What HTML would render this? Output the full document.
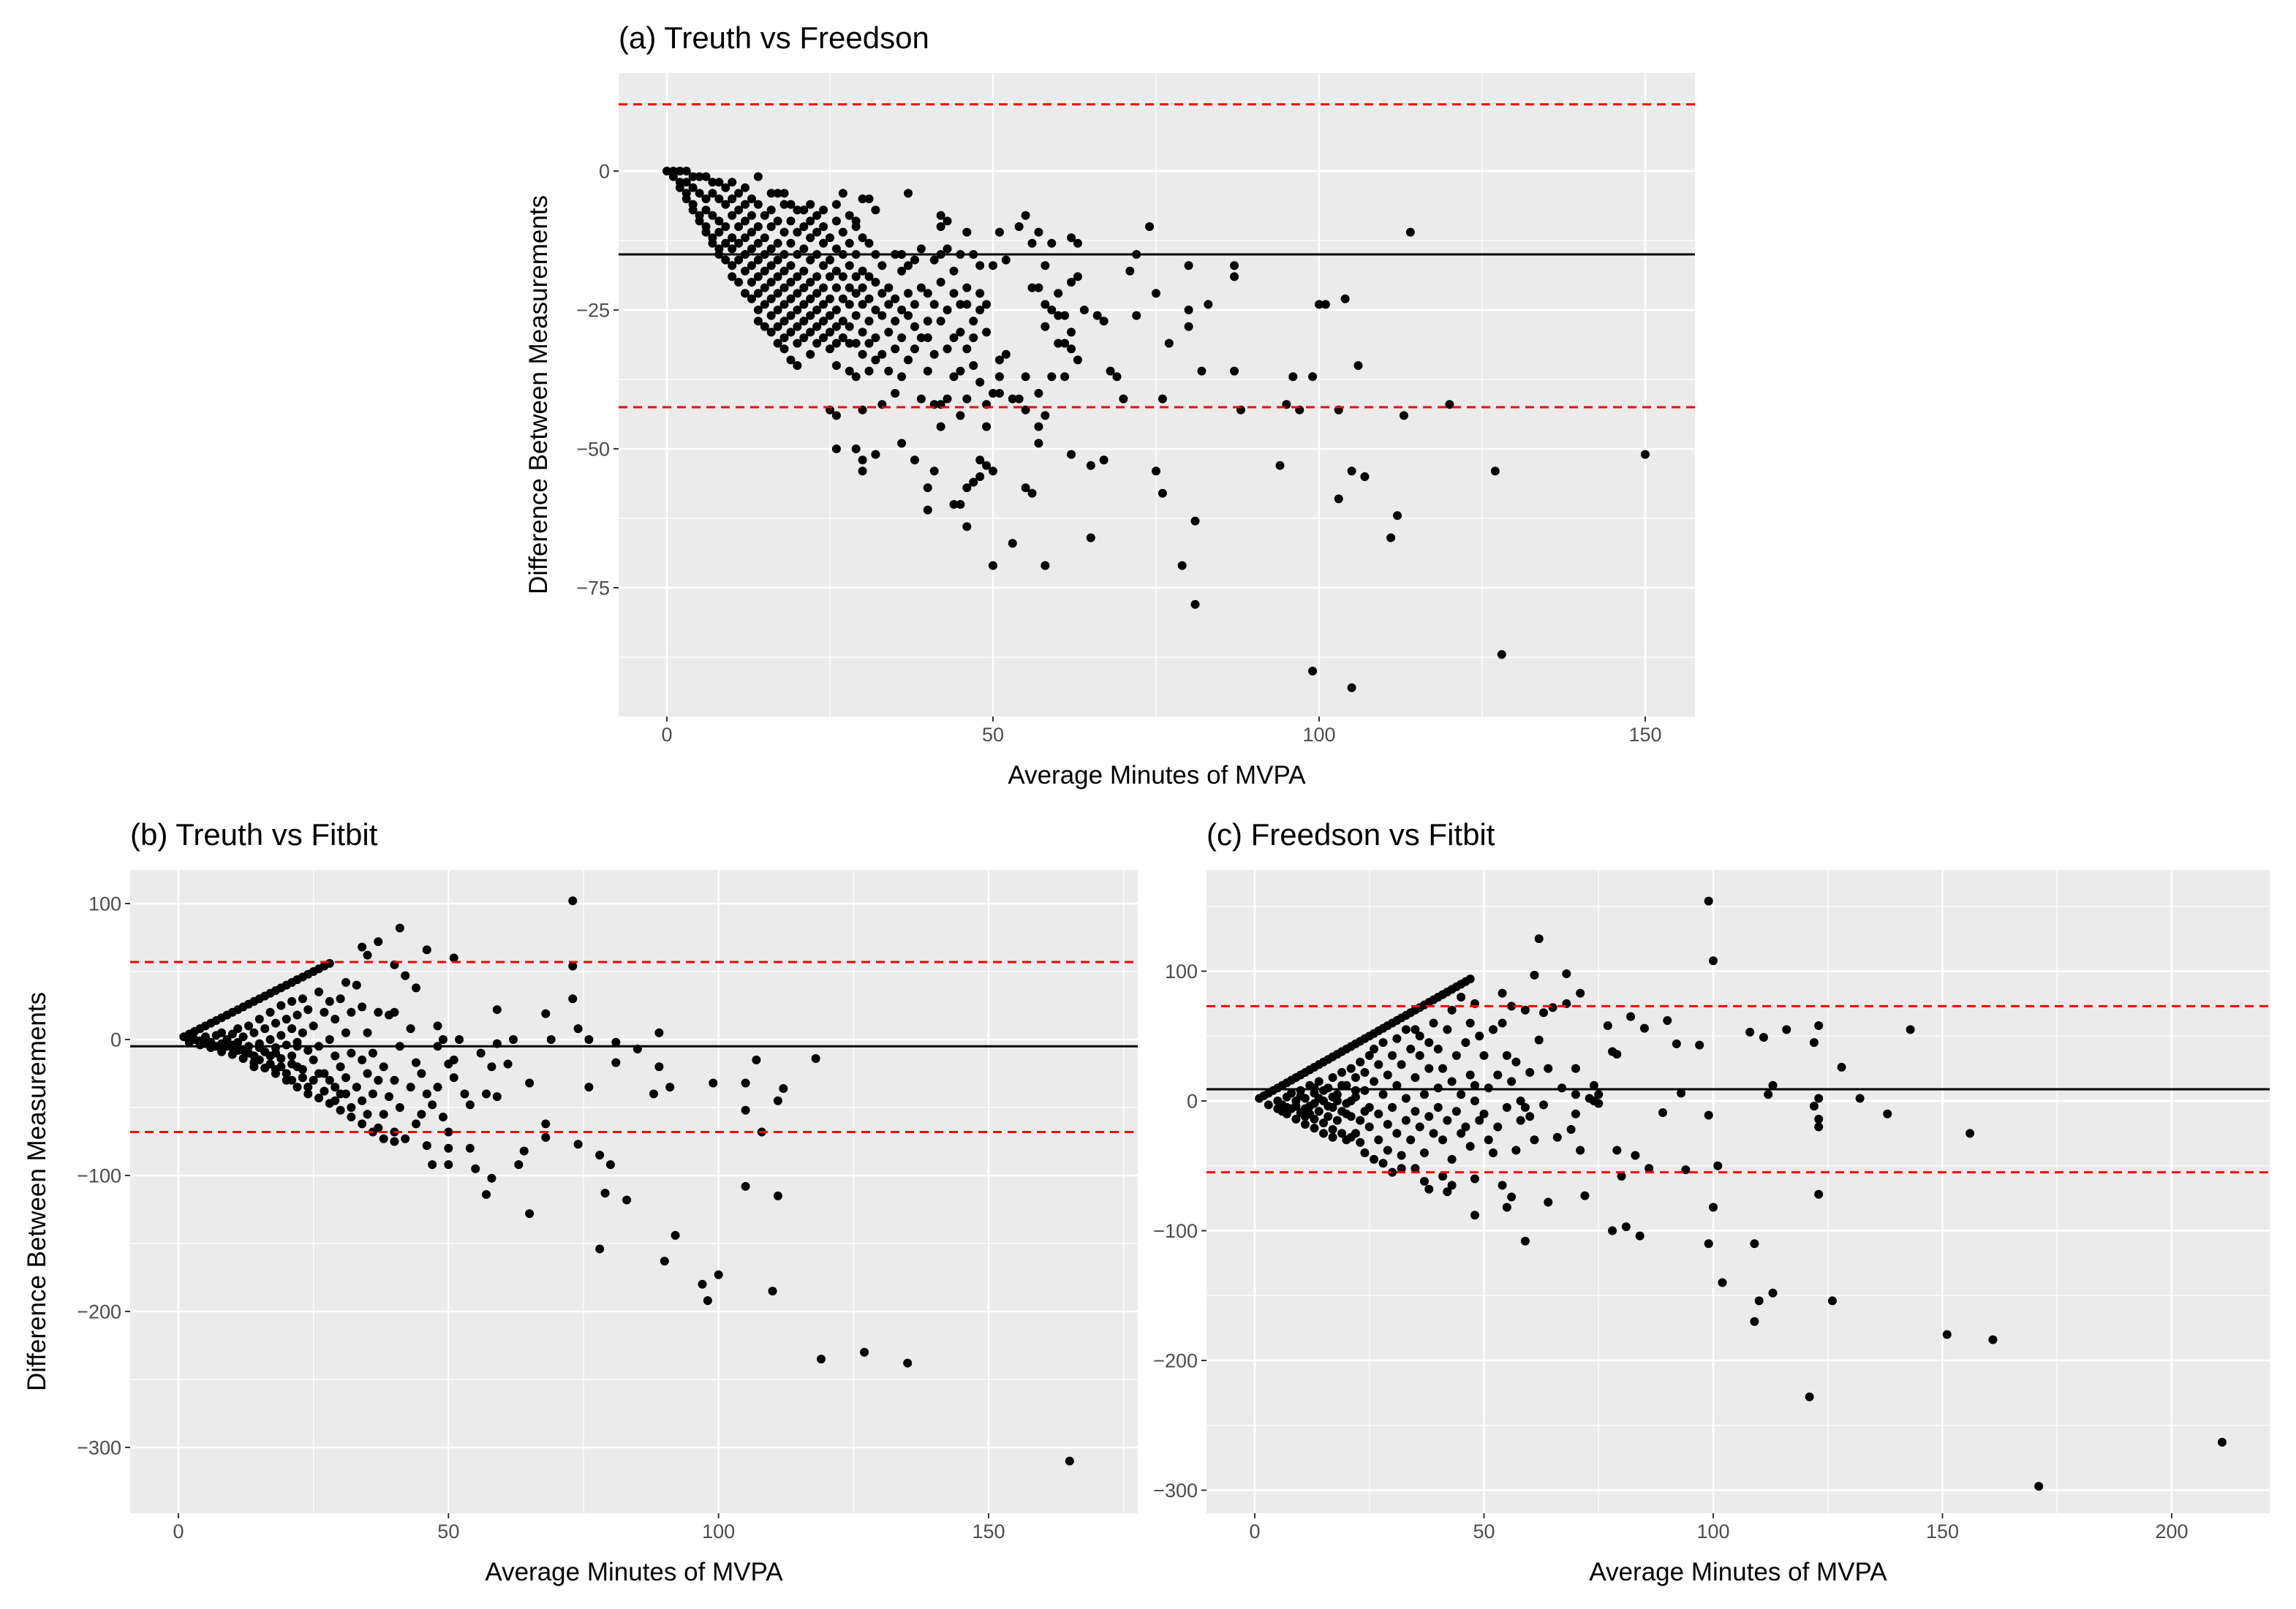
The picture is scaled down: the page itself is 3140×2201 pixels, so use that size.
<!DOCTYPE html>
<html><head><meta charset="utf-8"><style>
html,body{margin:0;padding:0;background:#fff}
svg{display:block}
text{font-family:"Liberation Sans",sans-serif}
</style></head><body>
<svg id="fig" xmlns="http://www.w3.org/2000/svg" width="3140" height="2201" viewBox="0 0 1570 1100.5">
<rect width="1570" height="1100.5" fill="#fff"/>
</svg>
<script>
// ---- Panel (a) Treuth vs Freedson data ----
const aX = [0,1,2,3,4,5,6,7,8,9,10,12,13,14,16,17,18,19,21,22,23,24,26,27,28,29,30,31,32,37,
1,2,2,3,3,4,4,5,5,6,6,7,7,8,8,9,10,10,11,12,13,14,14,15,16,17,18,19,20,
3,4,5,6,6,7,7,8,8,8,9,9,9,10,10,10,10,11,11,11,11,11,12,12,12,12,12,13,13,13,13,13,14,14,14,14,14,14,15,15,15,15,15,15,16,16,16,16,16,16,16,17,17,17,17,17,17,17,18,18,18,18,18,18,18,18,19,19,19,19,19,19,19,20,20,20,20,20,20,20,20,21,21,21,21,21,21,21,22,22,22,22,22,22,22,22,23,23,23,23,23,23,23,24,24,24,24,24,24,24,25,25,25,25,25,25,25,26,26,26,26,26,26,26,26,27,27,27,27,27,27,28,28,28,28,28,28,28,29,29,29,29,29,29,29,30,30,30,30,30,30,31,31,31,31,31,31,32,32,32,32,32,33,33,33,33,34,34,34,34,35,35,35,35,35,36,36,36,36,36,37,37,37,37,38,38,38,38,39,39,39,39,40,40,40,40,41,41,41,41,42,42,42,42,42,42,43,43,43,43,43,44,44,44,44,45,45,45,45,45,46,46,46,46,46,47,47,47,47,48,48,48,48,49,49,49,49,50,50,
25,26,26,29,30,30,30,32,33,36,38,40,40,41,42,44,45,46,46,47,48,48,49,50,51,51,51,52,53,53,54,50,55,55,55,56,57,57,57,58,58,58,59,59,60,60,61,61,62,62,62,63,64,65,65,66,67,67,68,69,70,71,72,72,74,75,75,76,76,77,79,80,80,80,81,81,82,83,87,87,87,88,94,95,96,97,99,99,100,101,103,103,104,105,105,106,107,112,111,113,114,120,127,128,150,
51,52,54,55,56,57,58,59,62,63,63,56,57,58,60,61,62];
const aY = [0,0,0,0,-1,-1,-1,-2,-2,-3,-2,-3,-5,-1,-4,-4,-4,-6,-7,-6,-8,-7,-6,-4,-8,-9,-5,-5,-7,-4,
-1,-2,-3,-4,-5,-6,-7,-8,-9,-10,-11,-12,-13,-14,-15,-16,-17,-19,-20,-22,-23,-25,-27,-28,-29,-31,-32,-34,-35,
-2,-3,-4,-5,-7,-4,-8,-5,-9,-11,-6,-10,-13,-5,-8,-12,-14,-4,-7,-10,-13,-16,-6,-9,-12,-15,-18,-8,-11,-14,-17,-20,-6,-10,-13,-16,-19,-22,-8,-12,-15,-18,-21,-24,-7,-10,-14,-17,-20,-23,-26,-9,-13,-16,-19,-22,-25,-28,-6,-11,-15,-18,-21,-24,-27,-30,-9,-13,-17,-20,-23,-26,-29,-7,-11,-15,-19,-22,-25,-28,-31,-10,-14,-18,-21,-24,-27,-30,-9,-12,-16,-20,-23,-26,-29,-33,-11,-15,-19,-22,-25,-28,-31,-10,-13,-17,-21,-24,-27,-30,-12,-16,-19,-23,-26,-29,-32,-9,-14,-18,-21,-25,-28,-31,-35,-11,-15,-19,-23,-27,-30,-13,-17,-21,-24,-28,-31,-36,-10,-15,-19,-22,-26,-31,-37,-12,-18,-21,-24,-29,-33,-13,-19,-23,-27,-31,-36,-15,-20,-25,-30,-34,-17,-22,-26,-33,-21,-24,-29,-36,-15,-23,-27,-32,-40,-15,-18,-25,-30,-37,-17,-22,-26,-34,-16,-24,-28,-32,-14,-21,-30,-41,-22,-27,-30,-36,-16,-24,-33,-42,-8,-10,-15,-20,-27,-42,-9,-14,-25,-32,-41,-18,-22,-30,-37,-15,-24,-29,-36,-44,-11,-21,-24,-32,-41,-15,-27,-30,-35,-17,-22,-25,-38,-24,-29,-42,-46,-17,-40,
-43,-44,-50,-50,-43,-52,-54,-51,-42,-49,-52,-57,-61,-54,-46,-60,-60,-57,-64,-56,-52,-55,-53,-54,-34,-37,-40,-33,-41,-67,-41,-71,-37,-43,-57,-58,-40,-46,-49,-28,-44,-71,-25,-37,-22,-26,-26,-37,-20,-32,-51,-34,-25,-53,-66,-26,-52,-27,-36,-37,-41,-18,-26,-15,-10,-22,-54,-58,-41,-31,-71,-25,-28,-17,-78,-63,-36,-24,-17,-19,-36,-43,-53,-42,-37,-43,-37,-90,-24,-24,-59,-43,-23,-93,-54,-35,-55,-62,-66,-44,-11,-42,-54,-87,-51,
-11,-16,-10,-8,-13,-11,-17,-13,-12,-13,-19,-21,-21,-24,-31,-31,-29];
const aXTicks = [0,50,100,150];
const aYTicks = [0,-25,-50,-75];
const aLines = [-15, 12, -42.5]; // mean, upper LoA, lower LoA

// ---- Panel (b) Treuth vs Fitbit data ----
const bX = [1,2,3,4,5,6,7,8,9,10,11,12,13,14,15,16,17,18,19,20,21,22,23,24,25,26,27,28,
2,4,6,8,10,12,14,16,18,20,22,24,26,28,30,32,34,36,38,40,
3,4,5,6,7,8,8,9,9,10,10,11,11,12,12,13,13,14,14,15,15,15,16,16,17,17,17,18,18,18,19,19,19,20,20,20,21,21,21,21,22,22,22,23,23,23,24,24,24,25,25,26,26,26,27,27,28,28,28,29,29,29,30,30,30,31,31,31,32,32,32,33,33,34,34,34,34,35,35,35,35,36,36,37,37,37,37,38,38,39,39,40,40,40,40,41,41,41,42,42,43,43,44,44,44,45,45,46,46,46,47,47,48,48,48,49,49,50,50,50,50,51,51,51,52,53,54,54,55,56,57,57,58,58,59,59,59,61,62,63,64,65,65,68,68,68,69,73,73,73,74,74,76,76,78,78,79,80,81,81,83,85,88,89,89,90,91,92,97,98,99,100,105,105,105,107,108,110,111,111,112,118,119,127,135,165,
5,7,9,11,13,15,17,19,21,23,25,27,29,31,10,14,18,22];
const bY = [2,4,6,8,10,12,14,16,18,20,22,24,26,28,30,32,34,36,38,40,42,44,46,48,50,52,54,56,
-2,-4,-6,-9,-11,-14,-17,-21,-25,-30,-35,-40,-43,-47,-52,-57,-62,-68,-73,-75,
0,-1,2,-2,3,-3,5,-5,0,4,-6,8,-2,-8,2,10,-5,5,-12,15,-3,-15,8,-9,20,0,-18,12,-6,-22,25,3,-14,15,-4,-25,28,8,-12,-30,18,-2,-20,30,5,-28,22,-8,-35,10,-15,35,-5,-25,20,-38,28,0,-30,15,-12,-45,30,-20,-40,42,5,-28,20,-10,-50,40,-35,68,24,-15,-45,62,5,-25,-55,-40,-10,72,20,-30,-65,-55,-20,-42,18,55,20,-30,-68,82,-50,-5,47,-73,8,-35,38,-17,-62,-25,-55,66,-40,-78,-48,-92,-5,10,-35,0,-57,-80,-92,-68,-18,60,-28,-15,0,-40,-80,-48,-95,-10,-114,-40,-102,-20,22,-3,-42,-18,0,-92,-82,-128,-32,-62,-72,19,0,102,54,30,8,-77,-35,0,-154,-85,-113,-92,-2,-17,-118,-7,-40,-20,5,-163,-35,-144,-180,-192,-32,-173,-32,-52,-108,-15,-68,-185,-45,-115,-36,-14,-235,-230,-238,-310,
-3,-5,-2,-8,-10,-6,-12,-20,-18,-22,-30,-25,-35,-40,-4,-20,-10,-5];
const bXTicks = [0,50,100,150];
const bYTicks = [100,0,-100,-200,-300];
const bLines = [-5, 57, -68];

// ---- Panel (c) Freedson vs Fitbit data ----
const cX = [1,3,5,7,9,11,13,15,17,19,21,23,25,27,29,31,33,35,37,39,41,43,45,47,
2,4,6,8,10,12,14,16,18,20,22,24,26,28,30,32,34,36,38,40,42,44,46,
3,5,7,9,11,13,15,17,20,22,24,26,28,30,32,35,37,38,41,42,43,48,48,54,55,56,59,64,
5,6,7,8,8,9,10,10,11,11,
12,12,13,13,14,14,15,15,16,16,
17,17,17,18,18,19,19,19,20,20,
21,21,21,22,22,23,23,23,24,24,
25,25,25,26,26,27,27,27,28,28,
29,29,29,30,30,31,31,31,32,32,
33,33,33,34,34,35,35,35,36,36,
36,37,37,38,38,38,39,39,40,40,
40,41,41,42,42,43,43,43,44,44,
45,45,45,46,46,47,47,47,48,48,
48,49,49,50,50,51,51,52,52,53,
53,54,54,55,55,56,56,57,57,58,
58,59,59,60,60,61,61,62,62,63,
63,64,65,66,67,68,68,69,70,70,
70,71,71,72,73,74,74,75,75,77,
78,78,79,79,80,81,82,83,84,85,
86,89,90,92,93,94,97,99,99,99,
100,100,101,102,108,109,109,110,111,112,
113,113,116,121,122,122,123,123,123,123,
123,126,128,132,138,143,151,156,161,171,211,
6,7,9,10,12,13,14,16,18,20,22,24,15,17,19,21,11,13];
const cY = [2,6,10,14,18,22,26,30,34,38,42,46,50,54,58,62,66,70,74,78,82,86,90,94,
4,8,12,16,20,24,28,32,36,40,44,48,52,56,60,64,68,72,76,80,84,88,92,
-3,-6,-10,-14,-18,-21,-25,-28,-30,-25,-40,-45,-48,-55,-52,-52,-62,-68,-58,-70,-65,-60,-88,-65,-82,-74,-108,-78,
0,-3,3,-6,6,0,-9,8,2,-12,
12,-4,-14,6,15,-8,0,-17,10,-12,
18,-5,-22,5,-15,22,-8,-25,12,-2,
25,-12,-28,18,3,30,-15,-32,8,22,
35,-5,-20,15,40,-10,28,-30,45,5,
20,-18,-38,35,-5,48,12,-25,28,-42,
55,2,-15,40,-30,18,55,-8,35,-20,
50,5,-40,45,25,-12,60,-25,10,40,
-5,25,-30,55,-15,70,15,-45,35,-8,
80,5,-25,45,-20,20,60,-35,75,0,
12,50,-15,-10,35,-30,10,55,-40,20,
-20,60,83,35,-5,15,73,-38,30,-15,
0,70,-5,22,-12,97,-30,125,47,-3,
68,25,72,-28,10,98,75,-22,25,-10,
5,83,-38,-73,2,0,12,-2,5,58,
38,-100,-38,36,-58,-97,65,-42,-104,56,
-52,-9,62,44,6,-53,43,-11,-110,154,
108,-82,-50,-140,53,-110,-170,-154,49,5,
-148,12,55,-228,45,-4,58,-20,-14,-72,
2,-154,26,2,-10,55,-180,-25,-184,-297,-263,
-8,-5,-4,4,-10,-2,2,-4,0,-10,8,-8,8,3,12,0,-6,10];
const cXTicks = [0,50,100,150,200];
const cYTicks = [100,0,-100,-200,-300];
const cLines = [9, 73, -55];

const NS = "http://www.w3.org/2000/svg";
const svg = document.getElementById("fig");
function mk(tag, attrs, parent){
  const e = document.createElementNS(NS, tag);
  for (const k in attrs) e.setAttribute(k, attrs[k]);
  (parent||svg).appendChild(e);
  return e;
}

function panel(cfg){
  const g = mk("g", {});
  
  
  const sx = v => cfg.x0 + (v - cfg.xd0) * cfg.kx;
  const sy = v => cfg.y0 - (v - cfg.yd0) * cfg.ky;
  const bg = mk("rect", {x:cfg.left, y:cfg.top, width:cfg.right-cfg.left, height:cfg.bottom-cfg.top, fill:"#ebebeb"}, g);
  
  
  for (const v of cfg.xMinor){ const p=sx(v); if(p>cfg.left&&p<cfg.right) mk("line",{x1:p,x2:p,y1:cfg.top,y2:cfg.bottom,stroke:"#fff","stroke-width":0.6},g); }
  for (const v of cfg.yMinor){ const p=sy(v); if(p>cfg.top&&p<cfg.bottom) mk("line",{x1:cfg.left,x2:cfg.right,y1:p,y2:p,stroke:"#fff","stroke-width":0.6},g); }
  for (const v of cfg.xTicks){
    const p=sx(v);
    mk("line",{x1:p,x2:p,y1:cfg.top,y2:cfg.bottom,stroke:"#fff","stroke-width":1.2},g);
    mk("line",{x1:p,x2:p,y1:cfg.bottom,y2:cfg.bottom+3.5,stroke:"#333","stroke-width":1},g);
    const t = mk("text",{x:p,y:cfg.bottom+17,"text-anchor":"middle","font-size":13.5,fill:"#4d4d4d"},g);
    t.textContent = String(v);
    
    
  }
  for (const v of cfg.yTicks){
    const p=sy(v);
    mk("line",{x1:cfg.left,x2:cfg.right,y1:p,y2:p,stroke:"#fff","stroke-width":1.2},g);
    mk("line",{x1:cfg.left-3.5,x2:cfg.left,y1:p,y2:p,stroke:"#333","stroke-width":1},g);
    const t = mk("text",{x:cfg.left-6,y:p+4.8,"text-anchor":"end","font-size":13.5,fill:"#4d4d4d"},g);
    t.textContent = String(v).replace("-","\u2212");
    
    
  }
  const pts = mk("g",{},g);
  
  
  const n = Math.min(cfg.xs.length, cfg.ys.length);
  for (let i=0;i<n;i++){
    const c = mk("circle",{cx:sx(cfg.xs[i]),cy:sy(cfg.ys[i]),r:3,fill:"#000"},pts);
    
    
  }
  const mean = mk("line",{x1:cfg.left,x2:cfg.right,y1:sy(cfg.lines[0]),y2:sy(cfg.lines[0]),stroke:"#000","stroke-width":1.5},g);
  
  
  for (let i=1;i<3;i++){
    const l = mk("line",{x1:cfg.left,x2:cfg.right,y1:sy(cfg.lines[i]),y2:sy(cfg.lines[i]),stroke:"#f00","stroke-width":1.5,"stroke-dasharray":"6 4"},g);
    
    
  }
  const tt = mk("text",{x:cfg.left,y:cfg.top-17,"font-size":21,fill:"#000"},g);
  tt.textContent = cfg.title;
  
  
  const xt = mk("text",{x:(cfg.left+cfg.right)/2,y:cfg.bottom+46,"text-anchor":"middle","font-size":17.5,fill:"#000"},g);
  xt.textContent = "Average Minutes of MVPA";
  
  
  if (cfg.ytitleX){
    const cy=(cfg.top+cfg.bottom)/2;
    const yt = mk("text",{x:cfg.ytitleX,y:cy,"text-anchor":"middle","font-size":17.5,fill:"#000",transform:`rotate(-90 ${cfg.ytitleX} ${cy})`},g);
    yt.textContent = "Difference Between Measurements";
    
    
  }
}

panel({name:"panel-a-treuth-vs-freedson", title:"(a) Treuth vs Freedson",
  left:423, right:1159, top:50, bottom:490,
  x0:456, xd0:0, kx:(1125-456)/150, y0:117, yd0:0, ky:(402-117)/75,
  xTicks:aXTicks, yTicks:aYTicks, xMinor:[25,75,125], yMinor:[12.5,-12.5,-37.5,-62.5,-87.5],
  xs:aX, ys:aY, lines:aLines, ytitleX:374});
panel({name:"panel-b-treuth-vs-fitbit", title:"(b) Treuth vs Fitbit",
  left:89, right:778, top:595, bottom:1035,
  x0:122, xd0:0, kx:(676-122)/150, y0:711, yd0:0, ky:(990-618)/400,
  xTicks:bXTicks, yTicks:bYTicks, xMinor:[25,75,125,175], yMinor:[50,-50,-150,-250],
  xs:bX, ys:bY, lines:bLines, ytitleX:31});
panel({name:"panel-c-freedson-vs-fitbit", title:"(c) Freedson vs Fitbit",
  left:825, right:1552, top:595, bottom:1035,
  x0:858, xd0:0, kx:(1485-858)/200, y0:753, yd0:0, ky:(1019-664)/400,
  xTicks:cXTicks, yTicks:cYTicks, xMinor:[25,75,125,175], yMinor:[150,50,-50,-150,-250],
  xs:cX, ys:cY, lines:cLines, ytitleX:null});
</script>
</body></html>
